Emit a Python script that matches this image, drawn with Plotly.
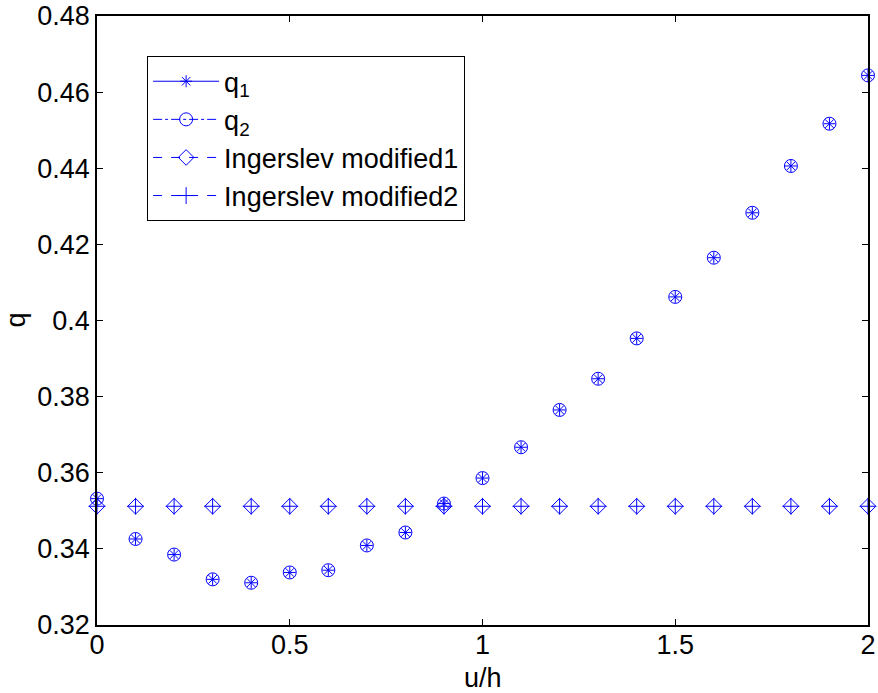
import plotly.graph_objects as go

u_h = [0.0, 0.1, 0.2, 0.3, 0.4, 0.5, 0.6, 0.7, 0.8, 0.9, 1.0,
       1.1, 1.2, 1.3, 1.4, 1.5, 1.6, 1.7, 1.8, 1.9, 2.0]
q1 = [0.3532, 0.3426, 0.3385, 0.3320, 0.3311, 0.3338, 0.3344, 0.3409, 0.3443, 0.3519, 0.3586,
      0.3667, 0.3765, 0.3847, 0.3953, 0.4062, 0.4165, 0.4283, 0.4406, 0.4517, 0.4644]
q2 = [0.3532, 0.3426, 0.3385, 0.3320, 0.3311, 0.3338, 0.3344, 0.3409, 0.3443, 0.3519, 0.3586,
      0.3667, 0.3765, 0.3847, 0.3953, 0.4062, 0.4165, 0.4283, 0.4406, 0.4517, 0.4644]
ing1 = [0.3512] * 21
ing2 = [0.3512] * 21

x_ticks = [0, 0.5, 1, 1.5, 2]
x_tick_labels = ["0", "0.5", "1", "1.5", "2"]
y_ticks = [0.32, 0.34, 0.36, 0.38, 0.40, 0.42, 0.44, 0.46, 0.48]
y_tick_labels = ["0.32", "0.34", "0.36", "0.38", "0.4", "0.42", "0.44", "0.46", "0.48"]

names = ["q<sub>1</sub>", "q<sub>2</sub>", "Ingerslev modified1", "Ingerslev modified2"]
series = [q1, q2, ing1, ing2]
symbols = ["asterisk-open", "circle-open", "diamond-open", "cross-thin-open"]
sizes = [10, 13, 12, 12]
dashes = ["solid", "dashdot", "dash", "dash"]
blue = "rgb(0,0,255)"

fig = go.Figure()
for ys, sym, sz in zip(series, symbols, sizes):
    fig.add_trace(go.Scatter(
        x=u_h, y=ys, mode="markers", showlegend=False, cliponaxis=False,
        marker=dict(symbol=sym, size=sz, color=blue, line=dict(width=1, color=blue)),
    ))
for nm, sym, sz, ds in zip(names, symbols, sizes, dashes):
    fig.add_trace(go.Scatter(
        x=[None], y=[None], mode="lines+markers", name=nm,
        line=dict(color=blue, width=1, dash=ds),
        marker=dict(symbol=sym, size=sz, color=blue, line=dict(width=1, color=blue)),
    ))

fam = "Liberation Sans, Arial, sans-serif"
font = dict(family=fam, size=27, color="black")
fig.update_layout(
    width=878, height=693,
    margin=dict(l=97, r=10, t=16, b=68, autoexpand=False),
    paper_bgcolor="white", plot_bgcolor="white",
    font=font,
    showlegend=True,
    legend=dict(
        x=0.065, y=0.934, xanchor="left", yanchor="top",
        bgcolor="white", bordercolor="black", borderwidth=1,
        font=dict(family=fam, size=27, color="black"),
        itemwidth=66, tracegroupgap=0,
    ),
    annotations=[
        dict(text="u/h", xref="paper", yref="paper", x=0.5, y=-53 / 609,
             xanchor="center", yanchor="middle", showarrow=False, font=font),
        dict(text="q", xref="paper", yref="paper", x=-82 / 771, y=0.5,
             xanchor="center", yanchor="middle", showarrow=False, textangle=-90, font=font),
    ],
)
fig.update_xaxes(
    range=[0, 2], tickvals=x_ticks, ticktext=x_tick_labels, automargin=False,
    ticks="inside", ticklen=6, tickcolor="black", tickwidth=1, ticklabelstandoff=-5,
    showline=True, linecolor="black", linewidth=1.5, mirror="ticks",
    showgrid=False, zeroline=False, tickfont=font,
)
fig.update_yaxes(
    range=[0.32, 0.48], tickvals=y_ticks, ticktext=y_tick_labels, automargin=False,
    ticks="inside", ticklen=6, tickcolor="black", tickwidth=1,
    showline=True, linecolor="black", linewidth=1.5, mirror="ticks",
    showgrid=False, zeroline=False, tickfont=font,
)
fig.write_html("out.html", config={"displayModeBar": False},
               post_script="document.body.style.margin='0';")
